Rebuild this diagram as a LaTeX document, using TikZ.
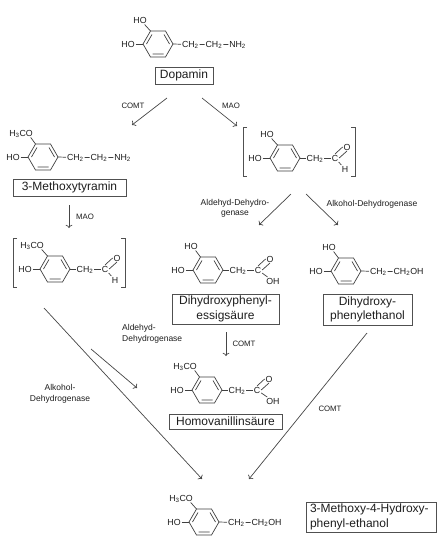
\documentclass[tikz,border=0pt]{standalone}
\usepackage{fontspec}
\setmainfont{Liberation Sans}
\usetikzlibrary{arrows.meta, positioning}
\definecolor{inkdark}{RGB}{30,30,30}
\definecolor{arrowgray}{RGB}{70,70,70}
\definecolor{boxgray}{RGB}{80,80,80}
\tikzset{
  bondline/.style={draw=inkdark!85, line width=0.7pt},
  chem/.style={inkdark, font=\fontsize{8.8}{10}\selectfont, inner sep=0.8pt, text height=6pt, text depth=0pt},
  enzyme/.style={inkdark, font=\fontsize{8.5}{10.5}\selectfont, inner sep=0pt, align=center},
  shortenz/.style={inkdark, font=\fontsize{7.8}{10}\selectfont, inner sep=0pt},
  namebox/.style={draw=boxgray, line width=0.7pt, inner sep=0pt, align=center, text=inkdark, font=\fontsize{12}{14.5}\selectfont},
  react/.style={->, arrowgray, line width=0.7pt},
  bracket/.style={draw=boxgray, line width=0.7pt}
}
% ring with OH on the left and one label on top: name, x, y, top label, top x-offset
\newcommand{\ringmol}[5]{
  \begin{scope}[shift={(#2,#3)}]
    \coordinate (#1-l) at (-15,0);
    \coordinate (#1-tl) at (-7.5,-13);
    \coordinate (#1-tr) at (7.5,-13);
    \coordinate (#1-r) at (15,0);
    \coordinate (#1-br) at (7.5,13);
    \coordinate (#1-bl) at (-7.5,13);
    \draw[bondline] (#1-l) -- (#1-tl) -- (#1-tr) -- (#1-r) -- (#1-br) -- (#1-bl) -- cycle;
    \draw[bondline] (-11.5,0) -- (-6,-9.5) (11.5,0) -- (6,-9.5) (-5.5,10) -- (5.5,10);
    \node[chem] (#1-ho) at (-30,0) {HO};
    \node[chem] (#1-top) at (#5,-23.5) {#4};
    \draw[bondline] (#1-ho) -- (#1-l);
    \draw[bondline] ([xshift=-3pt]#1-top.south east) -- (#1-tl);
  \end{scope}
}
% CH2-C(=O)-X side chain: name, x and y of the ring, last label, its x-offset
\newcommand{\carbonyl}[5]{
  \begin{scope}[shift={(#2,#3)}]
    \node[chem] (#1-ch) at (30,0) {CH\textsubscript{2}};
    \node[chem] (#1-c) at (50,0) {C};
    \node[chem] (#1-o) at (62,-11) {O};
    \node[chem] (#1-x) at (#5,11) {#4};
    \draw[bondline] (#1-r) -- (#1-ch);
    \draw[bondline] (#1-ch) -- (#1-c);
    \draw[bondline] (#1-c.north) -- (#1-o.west);
    \draw[bondline] (#1-c.east) -- (#1-o.south);
    \draw[bondline] (#1-c) -- (#1-x);
  \end{scope}
}
\begin{document}
\begin{tikzpicture}[x=1pt, y=-1pt]
  \useasboundingbox (0,0) rectangle (443,560);
  \fill[white] (0,0) rectangle (443,560);
  % Dopamin
  \ringmol{dopa}{158}{44}{HO}{-18}
  \node[chem, anchor=west] (dopaA) at (181,44.5) {CH\textsubscript{2}};
  \node[chem, right=5pt of dopaA] (dopaB) {CH\textsubscript{2}};
  \node[chem, right=5pt of dopaB] (dopaC) {NH\textsubscript{2}};
  \draw[bondline] (dopa-r) -- (dopaA) (dopaA) -- (dopaB) (dopaB) -- (dopaC);
  \node[namebox, minimum width=58pt, minimum height=17pt] (dopaminbox) at (184,75.5) {Dopamin};
  % 3-Methoxytyramin
  \ringmol{mty}{43}{157}{H\textsubscript{3}CO}{-22}
  \node[chem, anchor=west] (mtyA) at (66,157.5) {CH\textsubscript{2}};
  \node[chem, right=5pt of mtyA] (mtyB) {CH\textsubscript{2}};
  \node[chem, right=5pt of mtyB] (mtyC) {NH\textsubscript{2}};
  \draw[bondline] (mty-r) -- (mtyA) (mtyA) -- (mtyB) (mtyB) -- (mtyC);
  \node[namebox, minimum width=113pt, minimum height=17pt] (mtybox) at (69.5,187.5) {3-Methoxytyramin};
  % left aldehyde in brackets
  \ringmol{mald}{55}{269}{H\textsubscript{3}CO}{-23}
  \carbonyl{mald}{55}{269}{H}{60}
  \draw[bracket] (17,238) -- (13,238) -- (13,287) -- (17,287);
  \draw[bracket] (121,238) -- (125,238) -- (125,287) -- (121,287);
  % right aldehyde in brackets
  \ringmol{dald}{285}{158}{HO}{-18}
  \carbonyl{dald}{285}{158}{H}{60}
  \draw[bracket] (247,127) -- (243,127) -- (243,176) -- (247,176);
  \draw[bracket] (351,127) -- (355,127) -- (355,176) -- (351,176);
  % Dihydroxyphenylessigsaeure
  \ringmol{dops}{208}{270}{HO}{-17}
  \carbonyl{dops}{208}{270}{OH}{65}
  \node[namebox, minimum width=107pt, minimum height=30pt] (dopsbox) at (225.5,309) {Dihydroxyphenyl-\\essigsäure};
  % Dihydroxyphenylethanol
  \ringmol{dope}{346}{271}{HO}{-17}
  \node[chem, anchor=west] (dopeA) at (369,271.5) {CH\textsubscript{2}};
  \node[chem, right=5pt of dopeA] (dopeB) {CH\textsubscript{2}OH};
  \draw[bondline] (dope-r) -- (dopeA) (dopeA) -- (dopeB);
  \node[namebox, minimum width=89pt, minimum height=31pt] (dopebox) at (367.5,309.5) {Dihydroxy-\\phenylethanol};
  % Homovanillinsaeure
  \ringmol{hva}{207}{390}{H\textsubscript{3}CO}{-22}
  \carbonyl{hva}{207}{390}{OH}{66}
  \node[namebox, minimum width=113pt, minimum height=15pt] (hvabox) at (225.5,421.5) {Homovanillinsäure};
  % 3-Methoxy-4-Hydroxy-phenyl-ethanol
  \ringmol{mope}{204}{522}{H\textsubscript{3}CO}{-23}
  \node[chem, anchor=west] (mopeA) at (227,522.5) {CH\textsubscript{2}};
  \node[chem, right=5pt of mopeA] (mopeB) {CH\textsubscript{2}OH};
  \draw[bondline] (mope-r) -- (mopeA) (mopeA) -- (mopeB);
  \node[namebox, minimum width=130pt, minimum height=30pt, align=left, text width=122pt] (mopebox) at (371,517) {3-Methoxy-4-Hydroxy-\\phenyl-ethanol};
  % free arrow ends
  \coordinate (comtAs) at (167,98);
  \coordinate (comtAe) at (132,125);
  \coordinate (maoAs) at (202,98);
  \coordinate (maoAe) at (237,126);
  \coordinate (maoBs) at (69,205);
  \coordinate (maoBe) at (69,228);
  \coordinate (aldAs) at (291,194);
  \coordinate (aldAe) at (259,225);
  \coordinate (alkAs) at (306,194);
  \coordinate (alkAe) at (338,225);
  \coordinate (comtBs) at (226,332);
  \coordinate (comtBe) at (226,356);
  \coordinate (aldBs) at (91,349);
  \coordinate (aldBe) at (137,388);
  \coordinate (alkBs) at (44,308);
  \coordinate (alkBe) at (202,479);
  \coordinate (comtCs) at (367,333);
  \coordinate (comtCe) at (249,479);
  % arrows
  \draw[react] (comtAs) -- (comtAe);
  \draw[react] (maoAs) -- (maoAe);
  \draw[react] (maoBs) -- (maoBe);
  \draw[react] (aldAs) -- (aldAe);
  \draw[react] (alkAs) -- (alkAe);
  \draw[react] (comtBs) -- (comtBe);
  \draw[react] (aldBs) -- (aldBe);
  \draw[react] (alkBs) -- (alkBe);
  \draw[react] (comtCs) -- (comtCe);
  % enzyme labels
  \node[shortenz] (comtAl) at (133,106) {COMT};
  \node[shortenz] (maoAl) at (231,106) {MAO};
  \node[shortenz] (maoBl) at (85,217) {MAO};
  \node[enzyme] (aldAl) at (235,208.5) {Aldehyd-Dehydro-\\genase};
  \node[enzyme] (alkAl) at (372,204) {Alkohol-Dehydrogenase};
  \node[shortenz] (comtBl) at (244,344) {COMT};
  \node[enzyme, align=left, anchor=west] (aldBl) at (122,334) {Aldehyd-\\Dehydrogenase};
  \node[enzyme] (alkBl) at (60,394) {Alkohol-\\Dehydrogenase};
  \node[shortenz] (comtCl) at (330,409) {COMT};
\end{tikzpicture}
\end{document}
